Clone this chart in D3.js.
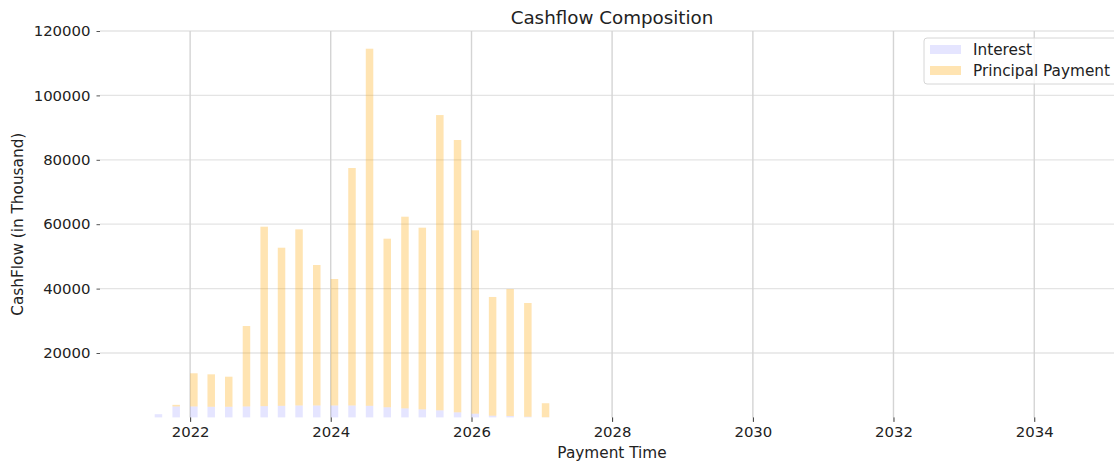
<!DOCTYPE html>
<html>
<head>
<meta charset="utf-8">
<script src="https://cdn.jsdelivr.net/npm/d3@7"></script>
<style>
  html,body{margin:0;padding:0;background:#fff;}
  svg{display:block;font-family:"DejaVu Sans",sans-serif;}
</style>
</head>
<body>
<svg id="chart" width="1114" height="463"></svg>
<script>
/* Cashflow composition — stacked quarterly bars */
const payDates = ['2021-07-01','2021-10-01','2022-01-01','2022-04-01','2022-07-01','2022-10-01',
  '2023-01-01','2023-04-01','2023-07-01','2023-10-01','2024-01-01','2024-04-01','2024-07-01','2024-10-01',
  '2025-01-01','2025-04-01','2025-07-01','2025-10-01','2026-01-01','2026-04-01','2026-07-01','2026-10-01','2027-01-01'];
const interest  = [1000,3400,3400,3300,3300,3400,3500,3600,3700,3700,3700,3700,3600,3150,2800,2500,2200,1580,1150,530,430,200,50];
const principal = [0,500,10300,10080,9340,24980,55730,49100,54700,43630,39280,73750,110900,52350,59530,56420,91700,84570,56950,36870,39450,35330,4350];
const yTicks = [20000,40000,60000,80000,100000,120000];
const xTickYears = [2022,2024,2026,2028,2030,2032,2034];
const seriesNames = ['Interest','Principal Payment'];

(function(){
  const svg = d3.select('#chart');
  const L=100, R=1124, T=31, B=417.4;

  const x = d3.scaleUtc().domain([new Date(Date.UTC(2020,8,20)), new Date(Date.UTC(2035,3,12))]).range([L,R]);
  const y = d3.scaleLinear().domain([0,120000]).range([B,T]);
  const barDays = 39.5;

  const rows = payDates.map((d,i)=>({d:new Date(d+'T00:00:00Z'), i:interest[i], p:principal[i]}));
  const w = r => x(d3.utcDay.offset(r.d, barDays)) - x(r.d);

  // ---- grid ----
  const g = svg.append('g');
  g.selectAll('.hg').data(yTicks).join('line')
    .attr('x1',L).attr('x2',R).attr('y1',v=>y(v)).attr('y2',v=>y(v))
    .attr('stroke','#e4e4e4').attr('stroke-width',1.3);
  const xt = xTickYears.map(yr=>new Date(Date.UTC(yr,0,1)));
  g.selectAll('.vg').data(xt).join('line')
    .attr('x1',d=>x(d)).attr('x2',d=>x(d)).attr('y1',T).attr('y2',B)
    .attr('stroke','#d4d4d4').attr('stroke-width',1.4);

  // ---- bars (stacked) ----
  const bars = svg.append('g');
  bars.selectAll('.bi').data(rows).join('rect')
    .attr('x',r=>x(r.d)).attr('width',w)
    .attr('y',r=>y(r.i)).attr('height',r=>y(0)-y(r.i))
    .attr('fill','#0000ff').attr('fill-opacity',0.1);
  bars.selectAll('.bp').data(rows.filter(r=>r.p>0)).join('rect')
    .attr('x',r=>x(r.d)).attr('width',w)
    .attr('y',r=>y(r.i+r.p)).attr('height',r=>y(r.i)-y(r.i+r.p))
    .attr('fill','#ffa500').attr('fill-opacity',0.3);

  // ---- axes ----
  const ax = svg.append('g').attr('transform',`translate(0,${B})`)
    .call(d3.axisBottom(x).tickValues(xt).tickFormat(d3.utcFormat('%Y')).tickSize(4.5).tickPadding(5));
  ax.select('.domain').remove();
  ax.selectAll('.tick line').attr('stroke','#333');
  ax.selectAll('.tick text').attr('fill','#222').style('font-size','14.9px').style('font-family','DejaVu Sans');

  const ay = svg.append('g').attr('transform',`translate(${L},0)`)
    .call(d3.axisLeft(y).tickValues(yTicks).tickFormat(d3.format('d')).tickSize(3.5).tickPadding(6));
  ay.select('.domain').remove();
  ay.selectAll('.tick line').attr('stroke','#555');
  ay.selectAll('.tick text').attr('fill','#222').style('font-size','14.9px').style('font-family','DejaVu Sans');

  // ---- labels ----
  svg.append('text').attr('x',(L+R)/2).attr('y',23.5).attr('text-anchor','middle')
    .attr('fill','#222').style('font-size','18.3px').text('Cashflow Composition');
  svg.append('text').attr('x',(L+R)/2).attr('y',458).attr('text-anchor','middle')
    .attr('fill','#222').style('font-size','15.3px').text('Payment Time');
  svg.append('text').attr('transform',`translate(22.5,${(T+B)/2}) rotate(-90)`).attr('text-anchor','middle')
    .attr('fill','#222').style('font-size','15.3px').text('CashFlow (in Thousand)');

  // ---- legend ----
  const lg = svg.append('g').attr('transform','translate(924,38)');
  lg.append('rect').attr('width',196).attr('height',46).attr('rx',3)
    .attr('fill','#fff').attr('fill-opacity',0.8).attr('stroke','#d6d6d6');
  const lc = [['#0000ff',0.1],['#ffa500',0.3]];
  seriesNames.forEach((s,i)=>{
    lg.append('rect').attr('x',6).attr('y',7+i*21).attr('width',31).attr('height',9)
      .attr('fill',lc[i][0]).attr('fill-opacity',lc[i][1]);
    lg.append('text').attr('x',49).attr('y',16.8+i*21).attr('fill','#222')
      .style('font-size','15.3px').text(s);
  });
})();
</script>
</body>
</html>
